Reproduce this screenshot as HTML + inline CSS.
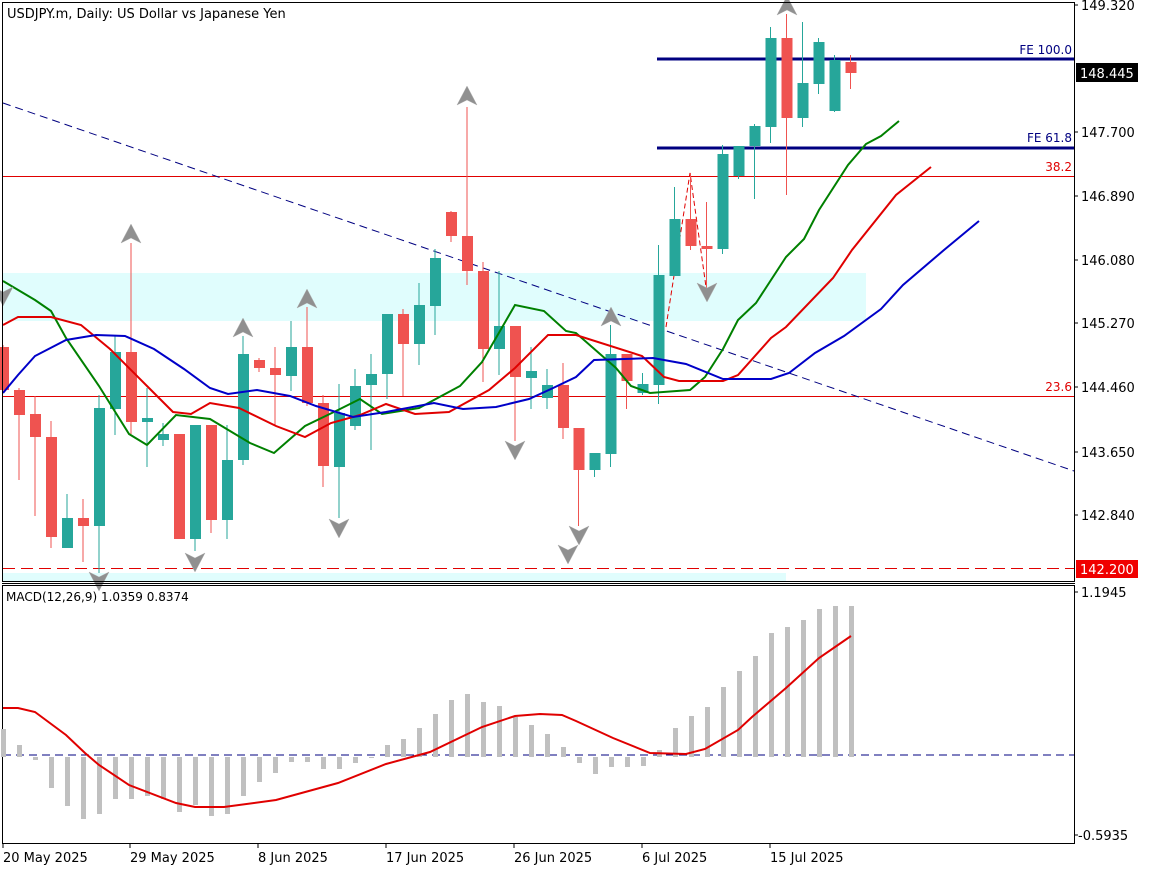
<!DOCTYPE html>
<html><head><meta charset="utf-8"><style>
html,body{margin:0;padding:0;background:#fff;}
svg{display:block;font-family:Tahoma,"DejaVu Sans","Liberation Sans",sans-serif;}
</style></head><body>
<svg id="s" width="1152" height="870" viewBox="0 0 1152 870" xmlns="http://www.w3.org/2000/svg">
<rect x="0" y="0" width="1152" height="870" fill="#fff"/>
<rect x="3" y="273" width="863" height="48" fill="#e0fdfd"/>
<rect x="3" y="573" width="783" height="8" fill="#e0fdfd"/>
<line x1="3" y1="176.5" x2="1074" y2="176.5" stroke="#e00000" stroke-width="1"/>
<line x1="3" y1="396.5" x2="1074" y2="396.5" stroke="#e00000" stroke-width="1"/>
<line x1="3" y1="568.5" x2="1074" y2="568.5" stroke="#e00000" stroke-width="1" stroke-dasharray="12,6"/>
<line x1="657" y1="59" x2="1074" y2="59" stroke="#000080" stroke-width="3"/>
<line x1="657" y1="148" x2="1074" y2="148" stroke="#000080" stroke-width="3"/>
<text x="1072" y="54" font-size="12" fill="#000080" text-anchor="end">FE 100.0</text>
<text x="1072" y="142" font-size="12" fill="#000080" text-anchor="end">FE 61.8</text>
<text x="1072" y="171" font-size="12" fill="#e00000" text-anchor="end">38.2</text>
<text x="1072" y="391" font-size="12" fill="#e00000" text-anchor="end">23.6</text>
<line x1="3" y1="103" x2="1074" y2="471" stroke="#000080" stroke-width="1" stroke-dasharray="8,5"/>
<polyline points="666,327 690,173 707,294" fill="none" stroke="#e00000" stroke-width="1" stroke-dasharray="5,3"/>
<g id="candles"></g>
<polyline fill="none" stroke="#008000" stroke-width="2" points="3,281 35,300 51,311 66,338 99,386 129,434 147,445 176,415 210,419 250,443 274,453 305,426 338,410 360,399 382,414 419,408 460,386 482,362 500,331 515,305 544,311 566,331 576,333 616,368 631,386 650,393 690,390 705,377 723,349 738,320 756,303 786,257 804,239 819,210 848,165 866,144 881,136 899,121"/>
<polyline fill="none" stroke="#e00000" stroke-width="2" points="3,325 18,317 51,317 81,325 110,349 147,386 173,412 191,414 210,403 239,408 276,426 305,437 331,423 360,415 386,404 415,414 449,412 489,390 515,368 548,335 576,335 642,356 664,377 679,381 723,381 738,375 771,338 786,327 833,278 852,250 896,195 931,167"/>
<polyline fill="none" stroke="#0000c8" stroke-width="2" points="3,393 18,375 35,356 66,340 96,335 125,336 154,349 184,369 210,388 228,394 257,390 290,396 316,406 353,417 386,412 434,403 463,409 496,407 529,399 551,389 576,377 594,360 653,358 686,364 723,379 771,379 789,373 815,353 844,336 881,309 903,285 944,250 979,221"/>
<g id="arrows"></g>
<rect x="2.5" y="2.5" width="1072" height="579" fill="none" stroke="#000" stroke-width="1"/>
<line x1="2" y1="583.5" x2="1075" y2="583.5" stroke="#000"/>
<rect x="2.5" y="585.5" width="1072" height="258" fill="none" stroke="#000" stroke-width="1"/>
<text x="7" y="18" font-size="13" fill="#000">USDJPY.m, Daily:  US Dollar vs Japanese Yen</text>
<g font-size="13" fill="#000">
<text x="1081" y="10">149.320</text>
<text x="1081" y="137">147.700</text>
<text x="1081" y="201">146.890</text>
<text x="1081" y="265">146.080</text>
<text x="1081" y="328">145.270</text>
<text x="1081" y="392">144.460</text>
<text x="1081" y="457">143.650</text>
<text x="1081" y="520">142.840</text>
<text x="1081" y="597">1.1945</text>
<text x="1078" y="840">-0.5935</text>
</g>
<g stroke="#000"><line x1="1074" y1="5" x2="1078" y2="5"/><line x1="1074" y1="132" x2="1078" y2="132"/><line x1="1074" y1="196" x2="1078" y2="196"/><line x1="1074" y1="260" x2="1078" y2="260"/><line x1="1074" y1="323" x2="1078" y2="323"/><line x1="1074" y1="387" x2="1078" y2="387"/><line x1="1074" y1="452" x2="1078" y2="452"/><line x1="1074" y1="515" x2="1078" y2="515"/><line x1="1074" y1="592" x2="1078" y2="592"/><line x1="1074" y1="835" x2="1078" y2="835"/></g>
<rect x="1076" y="63" width="62" height="19" fill="#000"/>
<text x="1080" y="78" font-size="13" fill="#fff">148.445</text>
<rect x="1076" y="560" width="62" height="18" fill="#f00000"/>
<text x="1080" y="574" font-size="13" fill="#fff">142.200</text>
<line x1="3" y1="755" x2="1074" y2="755" stroke="#000080" stroke-width="1" stroke-dasharray="8,5"/>
<g id="hist"></g>
<polyline fill="none" stroke="#e00000" stroke-width="2" points="3,708 18,708 35,712 66,735 85,753 99,765 129,785 176,803 195,807 224,807 276,800 338,783 386,764 430,752 482,727 515,716 540,714 562,715 576,721 613,738 650,753 686,754 705,749 738,730 752,717 786,688 819,658 851,636"/>
<text x="6" y="601" font-size="12" fill="#000">MACD(12,26,9) 1.0359 0.8374</text>
<g font-size="13" fill="#000">
<text x="3" y="862">20 May 2025</text>
<text x="130" y="862">29 May 2025</text>
<text x="258" y="862">8 Jun 2025</text>
<text x="386" y="862">17 Jun 2025</text>
<text x="514" y="862">26 Jun 2025</text>
<text x="642" y="862">6 Jul 2025</text>
<text x="770" y="862">15 Jul 2025</text>
</g>
<g stroke="#000"><line x1="3" y1="843" x2="3" y2="848"/><line x1="130" y1="843" x2="130" y2="848"/><line x1="258" y1="843" x2="258" y2="848"/><line x1="386" y1="843" x2="386" y2="848"/><line x1="514" y1="843" x2="514" y2="848"/><line x1="642" y1="843" x2="642" y2="848"/><line x1="770" y1="843" x2="770" y2="848"/></g>
</svg>
<script>
var NS="http://www.w3.org/2000/svg";
function el(p,t,a){var e=document.createElementNS(NS,t);for(var k in a)e.setAttribute(k,a[k]);p.appendChild(e);return e;}
var C=[[347,390,345,392,0],[390,415,388,480,0],[414,437,396,516,0],[437,537,421,548,0],[518,548,494,548,1],[518,526,499,562,0],[408,526,395,573,1],[352,409,336,435,1],[352,422,243,434,0],[418,422,388,467,1],[434,440,423,446,1],[434,539,434,539,0],[425,539,425,551,1],[425,520,425,533,0],[460,520,425,539,1],[354,460,336,465,1],[360,368,358,372,0],[368,375,347,426,0],[347,376,321,391,1],[347,403,307,406,0],[403,466,395,487,0],[413,467,384,518,1],[386,426,369,430,1],[374,385,354,450,1],[314,374,314,399,1],[314,344,309,396,0],[305,344,283,365,1],[258,306,249,335,1],[212,236,211,242,0],[236,271,107,285,0],[271,349,262,382,0],[326,349,271,375,1],[326,377,326,441,0],[371,378,347,409,1],[385,398,369,409,1],[385,428,363,439,0],[428,470,428,526,0],[453,470,453,477,1],[354,454,325,467,1],[354,381,354,409,0],[384,393,373,395,1],[275,385,245,404,1],[219,276,187,276,1],[219,246,173,250,0],[246,249,202,294,0],[154,249,145,254,1],[146,176,146,179,1],[126,146,124,199,1],[38,127,27,143,1],[38,118,14,195,0],[83,118,22,127,1],[42,84,38,94,1],[60,111,55,112,1],[62,73,55,89,0]];
var g=document.getElementById("candles");
C.forEach(function(c,i){var x=3+16*i+(i>=36?-0.5:0);var col=c[4]?"#26a69a":"#ef5350";
 el(g,"line",{x1:x,y1:c[2],x2:x,y2:c[3],stroke:col,"stroke-width":1});
 var h=Math.max(2,c[1]-c[0]);el(g,"rect",{x:x-5,y:c[0],width:11,height:h,fill:col});});
var H=[729,745,760,788,806,819,814,799,799,796,799,812,805,816,814,796,782,773,762,762,769,769,763,757,745,739,728,714,700,694,702,706,717,725,734,747,763,774,767,767,766,750,728,716,707,687,671,656,633,627,620,609,606,606];
var hg=document.getElementById("hist");
H.forEach(function(v,i){var x=3+16*i;var y1=Math.min(v,757),y2=Math.max(v,757);el(hg,"rect",{x:x-2,y:y1,width:5,height:Math.max(1,y2-y1),fill:"#c0c0c0"});});
var ag=document.getElementById("arrows");
function up(x,y){el(ag,"polygon",{points:(x)+","+(y)+" "+(x+10)+","+(y+19)+" "+(x)+","+(y+14)+" "+(x-10)+","+(y+19),fill:"#909090",stroke:"#b0b0b0","stroke-width":0.5});}
function dn(x,y){el(ag,"polygon",{points:(x)+","+(y+19)+" "+(x+10)+","+(y)+" "+(x)+","+(y+5)+" "+(x-10)+","+(y),fill:"#909090",stroke:"#b0b0b0","stroke-width":0.5});}
[[131,224],[243,318],[307,289],[467,86],[611,307],[787,-4]].forEach(function(a){up(a[0],a[1]);});
[[195,553],[339,519],[515,441],[579,526],[707,283],[99,572],[3,287],[568,545]].forEach(function(a){dn(a[0],a[1]);});
</script>
</body></html>
